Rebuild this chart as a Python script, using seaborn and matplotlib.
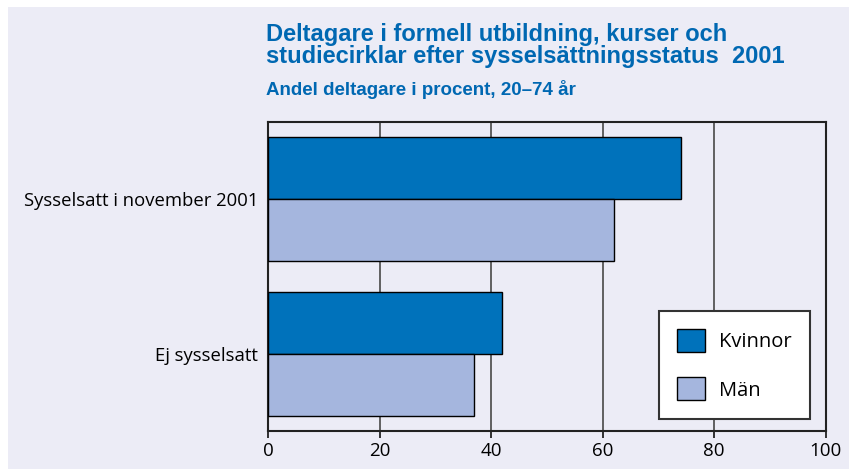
import pandas as pd
import matplotlib.pyplot as plt
import matplotlib.patches as mpatches
import seaborn as sns

# values (percent, 20-74 years)
categories = ["Sysselsatt i november 2001", "Ej sysselsatt"]
kvinnor = [74, 42]
man = [62, 37]
groups = ["Kvinnor", "Män"]
x_ticks = [0, 20, 40, 60, 80, 100]

BG = "#ECECF6"
DARK = "#0072BB"
LIGHT = "#A5B6DE"
TITLE_BLUE = "#0068B2"

df = pd.DataFrame({
    "Status": categories * 2,
    "Kön": [groups[0]] * len(categories) + [groups[1]] * len(categories),
    "Andel": kvinnor + man,
})

sns.set_theme(style="white")
plt.rcParams["font.family"] = ["Open Sans", "DejaVu Sans"]

fig = plt.figure(figsize=(8.49, 4.69), dpi=100, facecolor=BG)
# thin white margin at the top and left edge
fig.patches.append(mpatches.Rectangle((0, 0), 8 / 849, 1, transform=fig.transFigure,
                                      facecolor="white", edgecolor="none"))
fig.patches.append(mpatches.Rectangle((0, 1 - 7 / 469), 1, 7 / 469, transform=fig.transFigure,
                                      facecolor="white", edgecolor="none"))
ax = fig.add_axes([268 / 849, 38 / 469, 557.5 / 849, 309 / 469])
ax.set_facecolor(BG)

sns.barplot(data=df, y="Status", x="Andel", hue="Kön", order=categories,
            hue_order=groups, palette=[DARK, LIGHT], orient="h", saturation=1,
            edgecolor="black", linewidth=1.0, width=0.8, ax=ax, zorder=3)

ax.set_xlim(0, 100)
ax.set_xticks(x_ticks)
ax.set_ylim(1.5, -0.5)
ax.set_xlabel("")
ax.set_ylabel("")
ax.grid(axis="x", color="#555555", linewidth=1.3, zorder=1)
ax.set_axisbelow(True)
for s in ax.spines.values():
    s.set_visible(True)
    s.set_color("#222222")
    s.set_linewidth(1.5)
ax.tick_params(axis="x", length=5, width=1.3, color="#222222", labelsize=13.5,
               labelcolor="black", pad=3, direction="out", bottom=True)
ax.tick_params(axis="y", length=0, labelsize=13.3, labelcolor="black", pad=7)

handles = [mpatches.Patch(facecolor=DARK, edgecolor="black", linewidth=1.0),
           mpatches.Patch(facecolor=LIGHT, edgecolor="black", linewidth=1.0)]
leg = ax.legend(handles, groups, loc="lower right", bbox_to_anchor=(0.972, 0.04),
                frameon=True, fancybox=False, fontsize=14.5,
                handlelength=1.4, handleheight=1.4, labelspacing=1.25,
                borderpad=0.9, handletextpad=0.7, borderaxespad=0)
for t in leg.get_texts():
    t.set_color("black")
leg.get_frame().set_edgecolor("#333333")
leg.get_frame().set_linewidth(1.5)
leg.get_frame().set_facecolor("white")
leg.get_frame().set_alpha(1)

fig.text(266 / 849, 1 - 23 / 469,
         "Deltagare i formell utbildning, kurser och\n"
         "studiecirklar efter sysselsättningsstatus  2001",
         color=TITLE_BLUE, fontsize=17, fontweight="bold", va="top", ha="left",
         family=["Liberation Sans", "DejaVu Sans"], linespacing=0.95)
fig.text(266 / 849, 1 - 80 / 469, "Andel deltagare i procent, 20–74 år",
         color=TITLE_BLUE, fontsize=13.5, fontweight="bold", va="top", ha="left",
         family=["Liberation Sans", "DejaVu Sans"])

fig.savefig("out.png", dpi=100, facecolor=BG)
